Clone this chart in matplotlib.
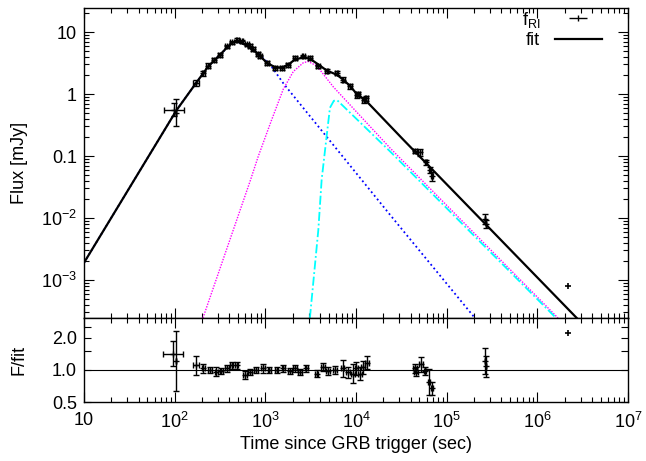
import matplotlib
matplotlib.use("Agg")
import matplotlib.pyplot as plt
import numpy as np
from matplotlib.ticker import FixedLocator, FixedFormatter, LogLocator, NullFormatter

plt.rcParams["font.family"] = ["Liberation Sans", "DejaVu Sans"]
plt.rcParams["mathtext.default"] = "regular"
plt.rcParams["font.size"] = 13

# observed light curve (time in s, flux in mJy, errors in dex)
obs_time = [98, 103, 172, 207, 235, 272, 316, 375, 426, 491, 548, 632, 678, 736,
            836, 873, 1035, 1279, 1515, 1792, 2124, 2625, 3113, 3840, 4740, 6120,
            7250, 8590, 10200, 10500, 12100, 13000,
            44800, 50800, 59200, 65500, 68300, 262000, 270000]
obs_flux = [0.56, 0.50, 1.50, 2.18, 2.86, 3.57, 4.3, 5.86, 6.8, 7.5, 7.05, 6.3, 5.9, 5.3,
            4.47, 4.04, 3.16, 2.63, 2.63, 2.97, 3.81, 4.04, 3.81, 2.79, 2.32, 2.18,
            1.70, 1.33, 0.97, 1.0, 0.81, 0.85,
            0.119, 0.114, 0.079, 0.060, 0.047, 0.0095, 0.0080]
obs_flux_err = [0.10, 0.22, 0.05, 0.04, 0.04, 0.03, 0.03, 0.03, 0.03, 0.03, 0.03, 0.03, 0.03, 0.03,
                0.03, 0.03, 0.03, 0.03, 0.03, 0.03, 0.03, 0.03, 0.03, 0.03, 0.03, 0.03,
                0.04, 0.04, 0.05, 0.04, 0.05, 0.04,
                0.03, 0.05, 0.04, 0.05, 0.07, 0.08, 0.06]
obs_time_err = [0.11, 0.0, 0.03, 0.02, 0.02, 0.02, 0.02, 0.02, 0.02, 0.02, 0.02, 0.02, 0.02, 0.02,
                0.02, 0.02, 0.02, 0.02, 0.02, 0.02, 0.02, 0.02, 0.02, 0.02, 0.02, 0.02,
                0.02, 0.02, 0.02, 0.02, 0.02, 0.02,
                0.02, 0.02, 0.01, 0.01, 0.01, 0.0, 0.0]
late_time = [2190000]
late_flux = [7.9e-4]

# fit and its components
fit_time = [10, 105, 172, 235, 316, 426, 491, 632, 836, 1035, 1280, 1515, 1800,
            2125, 2625, 3113, 3840, 4740, 6120, 7250, 8590, 10200, 13100, 33300, 310000, 2720000]
fit_flux = [1.9e-3, 0.55, 1.5, 2.8, 4.3, 6.7, 7.1, 6.0, 4.4, 3.2, 2.7, 2.65, 3.0,
            3.6, 3.9, 3.7, 3.0, 2.4, 2.05, 1.7, 1.35, 1.0, 0.76, 0.183, 6.4e-3, 2.44e-4]
comp1_time = [10, 105, 172, 235, 316, 426, 483, 622, 873, 1175, 1600, 23700, 205000]
comp1_flux = [1.9e-3, 0.55, 1.5, 2.8, 4.3, 6.6, 7.0, 6.2, 4.3, 2.75, 1.45, 0.0113, 2.44e-4]
comp2_time = [205, 678, 836, 1175, 1578, 2033, 2625, 2980, 3690, 5630, 23700, 1690000]
comp2_flux = [2.44e-4, 0.039, 0.099, 0.385, 1.2, 2.3, 3.2, 3.35, 2.85, 1.3, 0.135, 2.44e-4]
comp3_time = [3100, 3840, 4180, 4740, 5160, 5700, 6220, 23700, 1610000]
comp3_flux = [2.44e-4, 6.4e-3, 0.0415, 0.207, 0.6, 0.78, 0.79, 0.119, 2.44e-4]

# ratio data / fit
res_time = [97, 104, 172, 207, 245, 289, 327, 375, 425, 483, 592, 675, 792, 940, 1110,
            1330, 1580, 1880, 2120, 2410, 2840, 3670, 4350, 4950, 5860, 7100, 8200,
            9300, 10100, 11000, 11900, 13200, 44800, 45800, 52100, 58000, 64000, 69000,
            262000, 270000]
res_ratio = [1.42, 1.2, 1.10, 1.03, 1.0, 0.96, 0.98, 1.03, 1.10, 1.10, 0.89, 0.95, 1.0, 1.03, 1.0,
             1.0, 1.03, 0.97, 1.03, 0.95, 1.03, 0.92, 1.06, 0.97, 1.0, 1.03, 0.95,
             0.92, 1.03, 0.92, 1.06, 1.16, 1.03, 0.96, 1.13, 0.97, 0.77, 0.67,
             1.2, 1.08]
res_err = [0.12, 0.28, 0.09, 0.04, 0.03, 0.04, 0.03, 0.03, 0.03, 0.03, 0.04, 0.03, 0.03, 0.04, 0.03,
           0.03, 0.03, 0.03, 0.03, 0.03, 0.03, 0.03, 0.04, 0.04, 0.04, 0.08, 0.05,
           0.09, 0.06, 0.06, 0.06, 0.06, 0.04, 0.04, 0.07, 0.04, 0.12, 0.06,
           0.12, 0.10]
res_time_err = [0.11, 0.0, 0.03, 0.02, 0.02, 0.02, 0.02, 0.02, 0.02, 0.02, 0.02, 0.02, 0.02, 0.02, 0.02,
                0.02, 0.02, 0.02, 0.02, 0.02, 0.02, 0.02, 0.02, 0.02, 0.02, 0.02, 0.02,
                0.02, 0.02, 0.02, 0.02, 0.02, 0.02, 0.02, 0.02, 0.01, 0.01, 0.01,
                0.0, 0.0]
late_ratio = [2.19]


def log_err(values, dex):
    values = np.asarray(values, dtype=float)
    dex = np.asarray(dex, dtype=float)
    return [values - values * 10 ** -dex, values * 10 ** dex - values]


W, H = 646, 461
fig = plt.figure(figsize=(W / 100, H / 100), dpi=100)
ax = fig.add_axes([84 / W, 1 - 318 / H, 544 / W, 310 / H])
axr = fig.add_axes([84 / W, 1 - 402 / H, 544 / W, 84 / H], sharex=ax)

ax.plot(comp1_time, comp1_flux, color="#0000ff", lw=1.3, ls=(0, (1, 1.6)))
ax.plot(comp2_time, comp2_flux, color="#ff00ff", lw=1.0, ls=(0, (1, 1.0)))
ax.plot(comp3_time, comp3_flux, color="#00ffff", lw=1.3, ls=(0, (5, 1.5, 1, 1.5)))
ax.plot(fit_time, fit_flux, color="black", lw=1.6)

ax.errorbar(obs_time, obs_flux, yerr=log_err(obs_flux, obs_flux_err),
            xerr=log_err(obs_time, obs_time_err), fmt="+", color="black",
            ms=4, elinewidth=1.0, capsize=2.5, mew=1.0)
ax.plot(late_time, late_flux, "+", color="black", ms=5, mew=1.2)

# legend entries
h_data = ax.errorbar([], [], xerr=[], fmt="|", color="black", ms=4,
                     elinewidth=1.0, capsize=2.5, mew=1.0)
h_fit, = ax.plot([], [], color="black", lw=1.6)
ax.legend([h_data, h_fit], ["f$_{RI}$", "fit"], loc="upper right", frameon=False,
          markerfirst=False, handlelength=2.6, borderaxespad=0.3,
          labelspacing=0.15, handletextpad=0.8, fontsize=13,
          bbox_to_anchor=(0.975, 1.035))

ax.set_xscale("log")
ax.set_yscale("log")
ax.set_xlim(10, 1e7)
ax.set_ylim(2.44e-4, 24.4)
ax.yaxis.set_major_locator(FixedLocator([1e-3, 1e-2, 0.1, 1, 10]))
ax.yaxis.set_major_formatter(FixedFormatter(["$10^{-3}$", "$10^{-2}$", "0.1", "1", "10"]))
ax.yaxis.set_minor_locator(LogLocator(base=10, subs=np.arange(2, 10), numticks=20))
ax.yaxis.set_minor_formatter(NullFormatter())
ax.set_ylabel("Flux [mJy]")
ax.yaxis.set_label_coords(-0.103, 0.5)
plt.setp(ax.get_xticklabels(), visible=False)

axr.axhline(1.0, color="black", lw=0.8)
axr.errorbar(res_time, res_ratio, yerr=log_err(res_ratio, res_err),
             xerr=log_err(res_time, res_time_err), fmt="+", color="black",
             ms=4, elinewidth=1.0, capsize=2.5, mew=1.0)
axr.plot(late_time, late_ratio, "+", color="black", ms=5, mew=1.2)
axr.set_yscale("log")
axr.set_ylim(0.5, 3.05)
axr.yaxis.set_major_locator(FixedLocator([0.5, 1.0, 2.0]))
axr.yaxis.set_major_formatter(FixedFormatter(["0.5", "1.0", "2.0"]))
axr.yaxis.set_minor_locator(FixedLocator([1.5, 2.5]))
axr.yaxis.set_minor_formatter(NullFormatter())
axr.set_ylabel("F/fit")
axr.yaxis.set_label_coords(-0.103, 0.5)

axr.xaxis.set_major_locator(FixedLocator([10, 1e2, 1e3, 1e4, 1e5, 1e6, 1e7]))
axr.xaxis.set_major_formatter(FixedFormatter(["10", "$10^2$", "$10^3$", "$10^4$",
                                              "$10^5$", "$10^6$", "$10^7$"]))
axr.xaxis.set_minor_locator(LogLocator(base=10, subs=np.arange(2, 10), numticks=20))
axr.xaxis.set_minor_formatter(NullFormatter())
axr.set_xlabel("Time since GRB trigger (sec)", labelpad=3)

for a in (ax, axr):
    a.tick_params(which="both", direction="in", top=True, right=True, width=0.8)
    a.tick_params(which="major", length=7, pad=5)
    a.tick_params(which="minor", length=3.5)
    for s in a.spines.values():
        s.set_linewidth(1.0)
axr.tick_params(axis="y", which="both", length=5)
axr.tick_params(axis="x", which="major", pad=7)

fig.savefig("out.png", dpi=100)
